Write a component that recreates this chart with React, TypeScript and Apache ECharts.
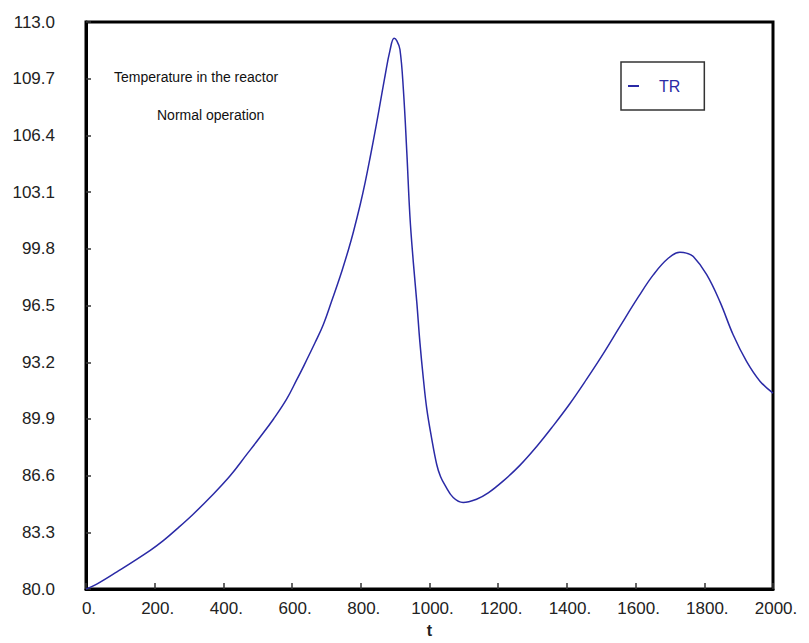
import React, { useEffect, useRef } from "react";
import * as echarts from "echarts";

const tValues = [0, 30, 90, 186, 225, 264, 312, 361, 419, 468, 507, 546, 584, 614, 633, 667, 691, 715, 740, 764, 778, 798, 813, 827, 844, 854, 870, 885, 897, 905, 914, 924, 934, 943, 953, 963, 972, 982, 992, 1006, 1021, 1032, 1045, 1069, 1098, 1137, 1171, 1215, 1263, 1312, 1360, 1409, 1457, 1506, 1555, 1608, 1652, 1695, 1729, 1748, 1768, 1807, 1846, 1884, 1923, 1962, 2000];
const trValues = [80.0, 80.27, 81.0, 82.24, 82.82, 83.49, 84.36, 85.33, 86.58, 87.84, 88.85, 89.9, 91.05, 92.2, 92.95, 94.35, 95.4, 96.75, 98.2, 99.75, 100.75, 102.35, 103.7, 105.1, 106.9, 108.0, 109.8, 111.35, 112.05, 111.9, 111.4, 109.06, 105.4, 101.7, 99.0, 96.7, 94.37, 92.27, 90.5, 88.8, 87.25, 86.55, 86.05, 85.33, 85.04, 85.23, 85.6, 86.3, 87.2, 88.3, 89.5, 90.8, 92.2, 93.7, 95.3, 97.0, 98.3, 99.25, 99.6, 99.55, 99.35, 98.3, 96.7, 94.8, 93.25, 92.1, 91.4];
const yTicks = [80.0, 83.3, 86.6, 89.9, 93.2, 96.5, 99.8, 103.1, 106.4, 109.7, 113.0];
const seriesName = "TR";
const noteLines = ["Temperature in the reactor", "Normal operation"];

const LINE = "#2a2aa6";
const FONT = "Liberation Sans, Arial, sans-serif";

export default function App() {
  const ref = useRef<HTMLDivElement>(null);
  useEffect(() => {
    if (!ref.current) return;
    const chart = echarts.init(ref.current, null, { renderer: "svg" });
    chart.setOption({
      animation: false,
      backgroundColor: "#ffffff",
      grid: {
        left: 86,
        right: 36,
        top: 22,
        bottom: 51,
        show: true,
        borderColor: "#000",
        borderWidth: 3,
        backgroundColor: "transparent",
      },
      xAxis: {
        type: "value",
        min: 0,
        max: 2000,
        interval: 200,
        name: "t",
        nameLocation: "middle",
        nameGap: 27,
        nameTextStyle: { fontFamily: FONT, fontSize: 16, color: "#222", fontWeight: "bold" },
        axisLine: { show: true, onZero: false, lineStyle: { color: "#000", width: 3 } },
        axisTick: { show: true, inside: true, length: 6, lineStyle: { color: "#333", width: 1.5 } },
        axisLabel: {
          formatter: (v: number) => `${v}.`,
          fontFamily: FONT,
          fontSize: 17,
          color: "#222",
          margin: 11,
          padding: [0, 0, 0, 6],
        },
        splitLine: { show: false },
      },
      yAxis: {
        type: "value",
        min: 80,
        max: 113,
        axisLine: { show: true, onZero: false, lineStyle: { color: "#000", width: 3 } },
        axisTick: {
          show: true,
          inside: true,
          length: 5,
          customValues: yTicks,
          lineStyle: { color: "#333", width: 1.5 },
        },
        axisLabel: {
          customValues: yTicks,
          formatter: (v: number) => v.toFixed(1),
          fontFamily: FONT,
          fontSize: 17,
          color: "#222",
          margin: 31,
        },
        splitLine: { show: false },
      },
      legend: {
        left: 621,
        top: 62,
        orient: "vertical",
        data: [{ name: seriesName, icon: "rect" }],
        itemWidth: 11,
        itemHeight: 2,
        padding: [16, 24, 16, 7],
        borderColor: "#333",
        borderWidth: 1.5,
        backgroundColor: "#fff",
        textStyle: { fontFamily: FONT, fontSize: 16, color: LINE, padding: [0, 0, 0, 15] },
        itemStyle: { color: LINE },
      },
      graphic: [
        {
          type: "text",
          left: 114,
          top: 70,
          style: { text: noteLines[0], font: `14px ${FONT}`, fill: "#111" },
        },
        {
          type: "text",
          left: 157,
          top: 108,
          style: { text: noteLines[1], font: `14px ${FONT}`, fill: "#111" },
        },
      ],
      series: [
        {
          name: seriesName,
          type: "line",
          data: tValues.map((t, i) => [t, trValues[i]]),
          showSymbol: false,
          smooth: 0.4,
          lineStyle: { color: LINE, width: 1.5 },
          itemStyle: { color: LINE },
          z: 1,
        },
      ],
    });
    return () => chart.dispose();
  }, []);
  return (
    <div
      ref={ref}
      style={{ position: "fixed", left: 0, top: 0, width: 809, height: 643, background: "#fff" }}
    />
  );
}
